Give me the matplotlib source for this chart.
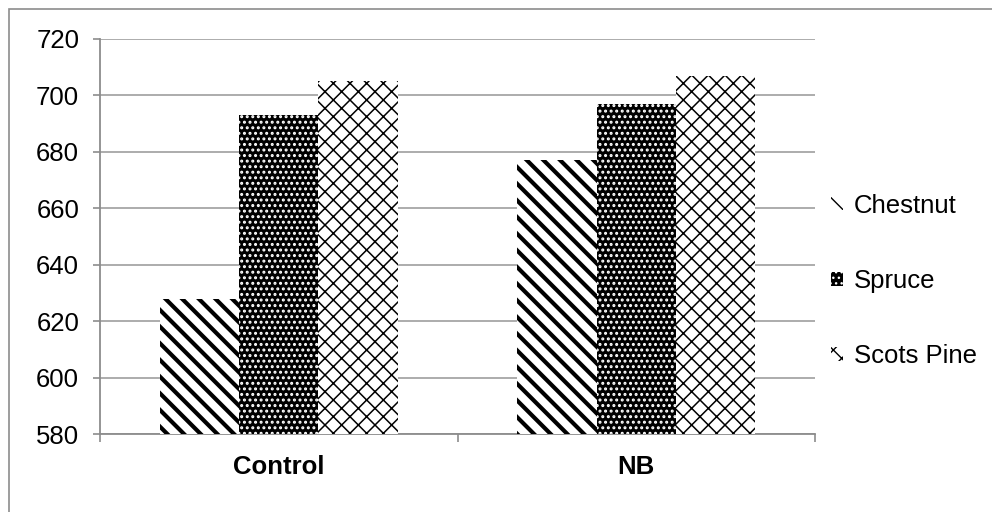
import matplotlib
matplotlib.use("Agg")
import matplotlib.pyplot as plt
from matplotlib.patches import Patch, Rectangle
import numpy as np

# data
groups = ["Control", "NB"]
species = ["Chestnut", "Spruce", "Scots Pine"]
chestnut = [628, 677]
spruce = [693, 697]
scots_pine = [705, 707]
y_ticks = [580, 600, 620, 640, 660, 680, 700, 720]

plt.rcParams['font.family'] = ['Liberation Sans', 'DejaVu Sans']
plt.rcParams['font.size'] = 18.5

grey = '#8c8c8c'
grid_grey = '#a6a6a6'

# bar styles: facecolor, hatch colour, hatch, hatch line width
styles = [
    ('white', 'black', '\\\\', 3.0),
    ('black', 'white', '...', 1.4),
    ('white', 'black', 'xx', 1.1),
]

fig = plt.figure(figsize=(9.92, 5.12), dpi=100)
ax = fig.add_axes([100 / 992, 1 - 434 / 512, 715 / 992, 395 / 512])

x = np.arange(len(groups))
w = 1 / 4.5
series = [chestnut, spruce, scots_pine]
handles = []
for i, (vals, name, (fc, hc, hatch, hlw)) in enumerate(zip(series, species, styles)):
    with plt.rc_context({'hatch.linewidth': hlw}):
        ax.bar(x + (i - 1) * w, np.array(vals) - 580, bottom=580, width=w,
               facecolor=fc, edgecolor=hc, hatch=hatch, linewidth=0, zorder=3)
    with plt.rc_context({'hatch.linewidth': min(hlw, 1.5)}):
        handles.append(Patch(facecolor=fc, edgecolor=hc, hatch=hatch, linewidth=0, label=name))

ax.set_xlim(-0.5, 1.5)
ax.set_ylim(580, 720)
ax.set_yticks(y_ticks)
ax.set_xticks(x)
ax.set_xticklabels(groups, fontweight='bold')
ax.set_xticks([-0.5, 0.5, 1.5], minor=True)
ax.tick_params(axis='x', which='major', length=0, pad=15)
ax.tick_params(axis='x', which='minor', length=6, width=1.2, color=grey, direction='out')
ax.tick_params(axis='y', length=5, width=1.2, color=grey, pad=10)

ax.grid(axis='y', color=grid_grey, linewidth=1.3, zorder=0)
ax.set_axisbelow(True)
for side in ['top', 'right']:
    ax.spines[side].set_visible(False)
for side in ['left', 'bottom']:
    ax.spines[side].set_color(grey)
    ax.spines[side].set_linewidth(1.3)

fig.legend(handles=handles, loc='center left', bbox_to_anchor=(831 / 992, 1 - 281 / 512),
           frameon=False, handlelength=0.45, handleheight=0.45, handletextpad=0.45,
           labelspacing=2.0, borderpad=0, borderaxespad=0)

# outer chart border (runs off the right and bottom of the image)
fig.patches.append(Rectangle((9 / 992, -0.2), 1.2, 1.2 - 9 / 512, transform=fig.transFigure,
                             fill=False, edgecolor=grey, linewidth=1.2))

fig.savefig('out.png', dpi=100)
